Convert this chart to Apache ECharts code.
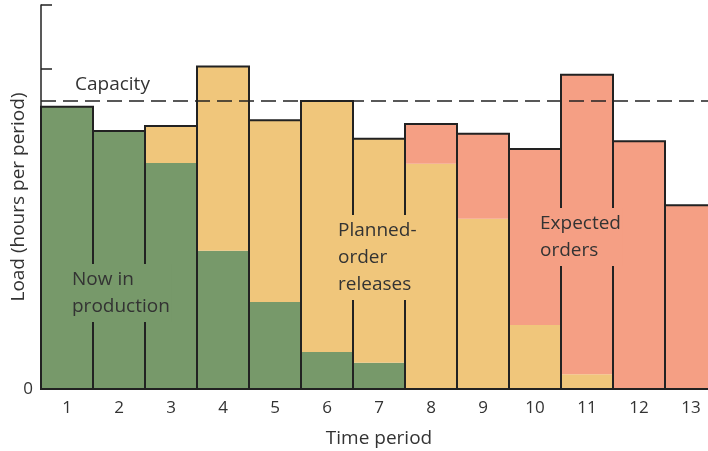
<!DOCTYPE html>
<html><head><meta charset="utf-8">
<script src="https://cdn.jsdelivr.net/npm/echarts@6/dist/echarts.min.js"></script>
<style>html,body{margin:0;padding:0;background:#fff}#c{width:708px;height:451px}</style>
</head><body><div id="c"></div>
<script>
const periods = ['1','2','3','4','5','6','7','8','9','10','11','12','13'];
const nowInProduction = [4.41, 4.03, 3.53, 2.16, 1.36, 0.58, 0.41, 0, 0, 0, 0, 0, 0];
const plannedReleases = [0, 0, 0.58, 2.88, 2.84, 3.92, 3.50, 3.52, 2.66, 1.00, 0.23, 0, 0];
const expectedOrders  = [0, 0, 0, 0, 0, 0, 0, 0.62, 1.33, 2.75, 4.68, 3.87, 2.87];
const capacity = 4.5;
const yTicks = [0, 1, 2, 3, 4, 5, 6];

const GREEN = '#77996a', YELLOW = '#f0c67b', SALMON = '#f59f84', INK = '#222';
const FONT = 'Open Sans';

const chart = echarts.init(document.getElementById('c'));
// stacked fills + outline drawn with a custom series, positioned by the axis scales
const colors = [GREEN, YELLOW, SALMON];
const customData = periods.map((p, i) => [i, nowInProduction[i], plannedReleases[i], expectedOrders[i]]);

function renderItem(params, api) {
  const idx = api.value(0);
  const bw = api.size([1, 0])[0];
  const children = [];
  let base = 0;
  for (let k = 0; k < 3; k++) {
    const v = api.value(k + 1);
    if (v > 0) {
      const p0 = api.coord([idx, base]);
      const p1 = api.coord([idx, base + v]);
      children.push({ type: 'rect', shape: { x: p0[0] - bw / 2, y: p1[1], width: bw, height: p0[1] - p1[1] },
        style: { fill: colors[k] } });
    }
    base += v;
  }
  const b0 = api.coord([idx, 0]);
  const b1 = api.coord([idx, base]);
  children.push({ type: 'rect', z2: 5, shape: { x: b0[0] - bw / 2, y: b1[1], width: bw, height: b0[1] - b1[1] },
    style: { fill: null, stroke: INK, lineWidth: 2 } });
  return { type: 'group', children };
}

function txt(lines, x, y, bg) {
  return { type: 'text', left: x, top: y, z: 100,
    style: { text: lines, fill: '#333', font: '19px "' + FONT + '"', lineHeight: 27,
      backgroundColor: bg, padding: [2, 2] } };
}
chart.setOption({
  animation: false,
  grid: { left: 41, top: 5, width: 676, height: 384, outerBoundsMode: 'none', containLabel: false },
  xAxis: {
    type: 'category', data: periods,
    axisLine: { lineStyle: { color: INK, width: 2 } },
    axisTick: { show: false },
    axisLabel: { color: '#333', fontSize: 17, fontFamily: FONT, margin: 11 },
    name: 'Time period', nameLocation: 'middle', nameGap: 40, nameMoveOverlap: false,
    nameTextStyle: { color: '#333', fontSize: 19, fontFamily: FONT }
  },
  yAxis: {
    type: 'value', min: yTicks[0], max: yTicks[yTicks.length - 1], interval: 1,
    axisLine: { show: true, lineStyle: { color: INK, width: 1.5 } },
    axisTick: { show: true, inside: true, length: 11, lineStyle: { color: INK, width: 1.5 } },
    splitLine: { show: false },
    axisLabel: { color: '#333', fontSize: 17, fontFamily: FONT, margin: 8,
      formatter: v => (v === 0 ? '0' : '') },
    name: 'Load (hours per period)', nameLocation: 'middle', nameGap: 13, nameMoveOverlap: false,
    nameTextStyle: { color: '#333', fontSize: 19, fontFamily: FONT }
  },
  series: [
    { name: 'load', type: 'custom', renderItem, data: customData, z: 2, silent: true,
      encode: { x: 0, y: [1, 2, 3] } },
    { name: 'capacity', type: 'line', data: [], silent: true, z: 4,
      markLine: { symbol: 'none', silent: true, label: { show: false },
        lineStyle: { color: INK, type: [15, 7], width: 1.5 },
        data: [{ yAxis: capacity }] } }
  ],
  graphic: [
    txt('Capacity', 73, 69, 'rgba(0,0,0,0)'),
    txt('Now in\nproduction', 70, 264, GREEN),
    txt('Planned-\norder\nreleases', 336, 215, YELLOW),
    txt('Expected\norders', 538, 208, SALMON)
  ]
});
</script></body></html>
